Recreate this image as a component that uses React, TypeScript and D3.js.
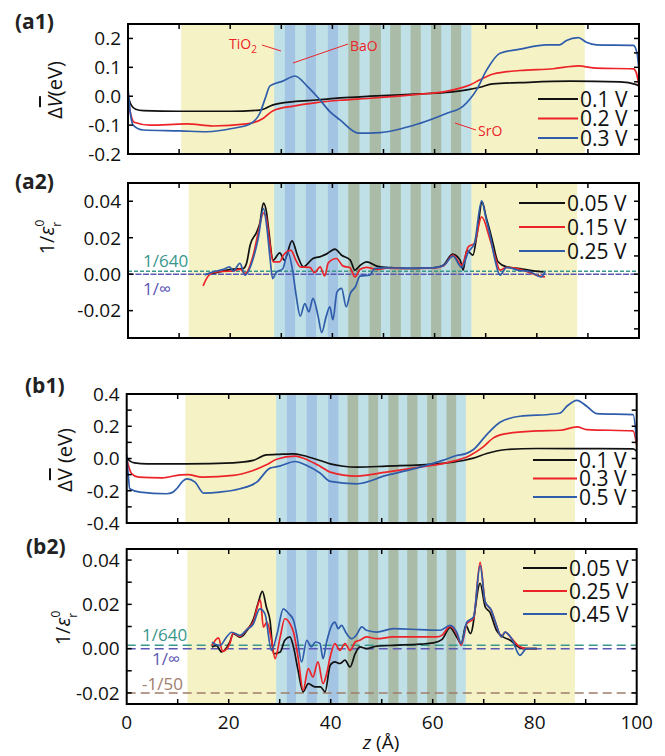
import React from 'react';
import * as d3 from 'd3';

type P = [number, number];

// ---------- (a1) averaged potential ----------
const a1Labels = ['0.1 V', '0.2 V', '0.3 V'];
const a1Black: P[] = [[0,0.0],[0.6,-0.03],[1.5,-0.045],[3,-0.05],[10,-0.052],[20,-0.052],[25.8,-0.048],[28.4,-0.03],[32.3,-0.019],[36.9,-0.013],[41.5,-0.006],[47.4,0.0],[57.1,0.008],[63,0.014],[66.3,0.022],[68.9,0.031],[71.4,0.043],[76.7,0.047],[86.5,0.052],[96.3,0.05],[99.5,0.04],[100,0.035]];
const a1Red: P[] = [[0,-0.01],[0.5,-0.06],[1.2,-0.09],[4.3,-0.1],[11.5,-0.096],[16.7,-0.103],[23.2,-0.096],[26.5,-0.076],[28.4,-0.05],[32.3,-0.034],[36.9,-0.022],[41.5,-0.014],[47.4,-0.007],[57.1,0.007],[62,0.016],[65,0.028],[67,0.04],[68.9,0.057],[71.5,0.077],[76.7,0.089],[83.2,0.095],[88.1,0.105],[91.7,0.097],[98.9,0.095],[99.5,0.08],[100,0.033]];
const a1Blue: P[] = [[0,0.031],[0.4,-0.05],[1,-0.1],[3,-0.117],[10.2,-0.12],[15.4,-0.123],[20.6,-0.111],[23.9,-0.096],[25.8,-0.059],[26.8,-0.01],[27.8,0.036],[30.4,0.053],[32.7,0.07],[35,0.036],[37.3,-0.007],[39.5,-0.053],[41.5,-0.082],[45.1,-0.128],[49.3,-0.126],[57.1,-0.094],[62.4,-0.059],[65.6,-0.034],[68.2,0.022],[70.2,0.091],[72.8,0.149],[76.7,0.163],[81.9,0.178],[84.5,0.178],[85.8,0.193],[88.1,0.203],[89.8,0.186],[91.7,0.178],[98.9,0.176],[99.6,0.15],[100,0.09]];

// ---------- (a2) inverse permittivity ----------
const a2Labels = ['0.05 V', '0.15 V', '0.25 V'];
const a2Black: P[] = [[16.2,0.0005],[17.5,0.001],[19,0.002],[20.6,0.0028],[22.5,0.003],[23.2,0.006],[23.9,0.0159],[25.2,0.0232],[25.8,0.028],[26.5,0.039],[27.1,0.034],[27.5,0.025],[28.4,0.0077],[29.7,0.0117],[30.6,0.0077],[32.1,0.0183],[33.2,0.01],[34.3,0.004],[36.2,0.0086],[37.5,0.0095],[38.8,0.011],[40.5,0.0137],[41.8,0.0104],[43.5,0.0077],[44.4,0.0022],[45.5,0.005],[46.7,0.0068],[48.7,0.0044],[50.6,0.0037],[52,0.0035],[55.2,0.0031],[57.5,0.0033],[59.7,0.0035],[61.7,0.0049],[63.5,0.011],[65,0.0077],[65.6,0.0022],[66.3,0.0131],[67.5,0.0104],[68.3,0.022],[69.3,0.0396],[70.1,0.031],[70.8,0.024],[71.5,0.016],[72.4,0.0068],[74.1,0.004],[76.7,0.0031],[79.3,0.0018],[81.3,0.0013]];
const a2Red: P[] = [[14.7,-0.0064],[15.4,-0.0023],[16.7,0.0009],[18.5,0.0015],[20.6,0.0017],[21.9,0.0028],[22.9,0.0004],[24.5,0.0104],[25.5,0.023],[26.5,0.0335],[27.1,0.0305],[27.6,0.02],[28.4,0.0068],[29.7,0.0068],[30.4,0.0104],[31.9,0.0131],[32.8,0.008],[33.7,0.004],[35.6,0.0037],[36.5,0.0008],[37.6,0.004],[38.5,-0.001],[39.2,0.0062],[40.8,0.0086],[42.1,0.0044],[43.4,0.0037],[44.4,-0.0015],[45.4,0.0026],[46.7,0.0037],[48.7,0.0026],[50.6,0.0033],[55,0.0031],[59.7,0.0033],[61.7,0.0045],[63.6,0.0104],[65.3,0.0049],[66.6,0.015],[67.8,0.017],[69.2,0.0314],[70.8,0.0195],[71.8,0.01],[72.8,0.0022],[74.1,0.0037],[76.7,0.0026],[78.5,0.001],[79.9,-0.0005],[81.6,-0.0015]];
const a2Blue: P[] = [[15,-0.0004],[16.7,0.0013],[18.5,0.0025],[19.9,0.004],[20.6,0.0017],[21.9,0.0059],[22.9,-0.0005],[24.5,0.0086],[25.5,0.02],[26.5,0.036],[27.2,0.025],[27.8,0.0086],[28.3,-0.0024],[29,0.001],[30.3,0.003],[31.3,0.012],[32.2,0.0022],[32.9,-0.0115],[33.7,-0.023],[34.6,-0.0161],[35.4,-0.0206],[36.2,-0.0133],[37.2,-0.023],[37.9,-0.032],[38.8,-0.023],[39.5,-0.0179],[40.1,-0.025],[40.9,-0.0097],[41.8,-0.0078],[42.7,-0.0179],[43.5,-0.0106],[44.5,-0.0069],[45.4,-0.0011],[47.3,-0.0005],[48.3,0.0031],[50,0.0035],[55,0.0033],[59.7,0.0035],[61.7,0.0047],[63.6,0.0099],[65.3,0.0037],[66.6,0.0122],[67.8,0.017],[69.2,0.0402],[70.1,0.03],[70.8,0.022],[71.8,0.008],[72.8,-0.0005],[74.1,0.0037],[76.7,0.002],[78.5,0.0015],[80.9,-0.0015],[81.6,0.0013]];

// ---------- (b1) averaged potential ----------
const b1Labels = ['0.1 V', '0.3 V', '0.5 V'];
const b1Black: P[] = [[0,0.004],[0.6,-0.015],[1.5,-0.027],[4,-0.033],[11.8,-0.033],[20.9,-0.027],[24.8,-0.012],[27.4,0.0227],[29.4,0.025],[32.7,0.029],[34.6,0.0186],[37.9,-0.0124],[39.9,-0.033],[42.5,-0.048],[45.1,-0.0536],[50.9,-0.0474],[60.8,-0.033],[66,-0.0124],[68,0.002],[70.6,0.0309],[74.5,0.0557],[80.4,0.0619],[90,0.061],[99.3,0.0598],[100,0.045]];
const b1Red: P[] = [[0,-0.002],[0.5,-0.06],[1,-0.095],[2.3,-0.1155],[7,-0.1196],[10.6,-0.101],[12,-0.1],[14.8,-0.1155],[20.9,-0.105],[24.8,-0.0742],[27.4,-0.0392],[29.4,-0.005],[33,0.015],[35.9,-0.015],[37.9,-0.0474],[39.9,-0.0845],[45.1,-0.109],[50.9,-0.0845],[57.5,-0.0536],[62.7,-0.0268],[67.3,0.0186],[69.9,0.0722],[71.9,0.1278],[74.5,0.1546],[80.4,0.1711],[85,0.1753],[88.3,0.1959],[90.2,0.1794],[99.3,0.1711],[100,0.0825]];
const b1Blue: P[] = [[0,0.025],[0.3,-0.1],[0.6,-0.1876],[2.6,-0.208],[7.8,-0.2185],[9,-0.21],[9.8,-0.1876],[11,-0.14],[11.8,-0.126],[13.4,-0.1464],[15.1,-0.2144],[18.3,-0.208],[22.2,-0.1876],[25.5,-0.1464],[28.1,-0.0598],[30,-0.0474],[33,-0.0186],[35.3,-0.0433],[37.9,-0.09],[39.9,-0.1423],[45.1,-0.157],[50.9,-0.105],[57.5,-0.0536],[62.1,-0.0103],[64.7,0.0186],[66.5,0.03],[68,0.0557],[70.6,0.148],[73.2,0.2247],[77.1,0.262],[83.7,0.276],[85,0.282],[86.3,0.324],[88.3,0.361],[90.2,0.324],[92.2,0.278],[99.3,0.272],[100,0.107]];

// ---------- (b2) inverse permittivity ----------
const b2Labels = ['0.05 V', '0.25 V', '0.45 V'];
const b2Black: P[] = [[16.7,0.0007],[17.6,0.0014],[18.6,-0.0015],[20.2,0.0029],[20.9,0.0068],[22.2,0.0052],[22.8,0.0059],[23.5,0.008],[24.8,0.013],[25.7,0.02],[26.6,0.0259],[27.4,0.0187],[28.1,0.0128],[28.8,-0.0023],[30.1,-0.0015],[31,0.0038],[32,0.0053],[32.7,0.0008],[33.6,-0.0098],[34.6,-0.0195],[35.6,-0.0158],[36.9,-0.0173],[38,-0.0173],[38.9,-0.0195],[39.9,-0.0075],[40.8,-0.006],[41.8,-0.0067],[42.8,-0.0052],[43.8,-0.0083],[44.8,-0.0023],[45.7,0.0008],[47,0],[49,0.0011],[52.3,0.0015],[57.5,0.002],[60.1,0.0026],[61.8,0.0041],[63.4,0.0095],[64.7,0.0053],[65.6,0.0023],[66.5,0.0105],[67.4,0.0068],[69.3,0.0295],[70.3,0.0188],[71.2,0.0165],[72.5,0.0083],[73.8,0.0053],[75.2,0.0038],[76.8,0.0008],[78.4,0],[80.4,0]];
const b2Red: P[] = [[16.7,0.0014],[18,0.0049],[18.8,-0.0012],[20.2,0.0022],[20.9,0.007],[22.2,0.0055],[23.5,0.0085],[24.8,0.012],[26.2,0.022],[26.8,0.0097],[27.5,0.012],[28.4,0.0038],[29.1,-0.0045],[30.1,0.0053],[31,0.0135],[32,0.0113],[32.7,0.0075],[33.6,-0.0038],[34.6,-0.0188],[35.6,-0.009],[36.5,-0.0128],[37.5,-0.006],[38.5,-0.0158],[39.2,-0.0113],[39.9,-0.0038],[40.8,0.0023],[41.8,-0.0008],[42.8,0.0023],[43.8,-0.0008],[44.8,0.003],[45.7,0.0038],[47,0.0053],[49,0.0045],[52.3,0.0053],[57.5,0.0053],[60.8,0.0053],[61.8,0.006],[63.4,0.0101],[64.7,0.0068],[65.6,0.0015],[66.7,0.0113],[68,0.0135],[69.3,0.039],[70.3,0.021],[71.5,0.0173],[72.5,0.0105],[73.5,0.0053],[74.2,0.0075],[75.5,0.0045],[77.1,0.0008],[78.4,0],[80.4,0]];
const b2Blue: P[] = [[16.7,0.0029],[18.3,0.0014],[19.5,0.005],[20.6,0.0074],[22.2,0.006],[23.5,0.0085],[24.8,0.011],[26.1,0.018],[27.1,0.0158],[28.4,-0.0008],[29.5,0.0068],[30.7,0.018],[31.7,0.016],[32.7,0.0128],[33.3,0.0068],[34.3,-0.006],[35.3,0.0038],[36.2,0.0008],[37,0.003],[37.9,0.0023],[38.5,-0.0045],[39.2,0.003],[40.2,0.0105],[40.8,0.012],[41.5,0.009],[42.1,0.0105],[43.1,0.0068],[44.1,0.0045],[45,0.006],[46.1,0.0098],[47,0.0083],[49,0.0075],[52.3,0.009],[57.5,0.0086],[61.4,0.0083],[63.4,0.0105],[64.7,0.0075],[65.6,0.0023],[66.7,0.012],[68,0.0143],[69.3,0.0375],[70.3,0.021],[71.5,0.0173],[72.5,0.0105],[73.5,0.0053],[74.2,0.0075],[75.5,0.0045],[77.1,-0.003],[78.4,0],[80.4,0]];

// layer regions (z in Å)
const aCyan: P = [28.6, 67.2];
const aBlueStripes: P[] = [[30.7,32.7],[34.8,36.8],[39.1,41.1]];
const aGreyStripes: P[] = [[43.1,45.3],[47.3,49.5],[51.3,53.4],[55.3,57.3],[59.3,61.3],[63.2,65.2]];
const bCyan: P = [29.3, 66.5];
const bBlueStripes: P[] = [[31.4,33.2],[35.3,37.3],[39.5,41.5]];
const bGreyStripes: P[] = [[43.3,45.4],[47.4,49.3],[51.3,53.3],[55,57],[58.9,60.8],[62.7,64.6]];

const zTicks = [10, 20, 30, 40, 50, 60, 70, 80, 90];
const zLabels = [0, 20, 40, 60, 80, 100];

const RED = '#ec2328';
const BLUE = '#2f5dab';
const BLACK = '#111';
const YELLOW = '#f5f3c6';
const CYAN = '#c0e0e7';
const SBLUE = '#a3c4e2';
const SGREY = '#aabca8';
const TEAL = '#3a978c';
const PURPLE = '#5a57b3';
const BROWN = '#a07d6c';
const FONT = '"Open Sans", "Noto Sans", sans-serif';

interface RefLine { v: number; color: string; dash: string; label: string; lx: number; ly: number }

interface PanelProps {
  left: number; right: number; top: number; bottom: number;
  yDomain: P;
  yellow: P; cyan: P; blues: P[]; greys: P[];
  series: P[][]; labels: string[];
  yLabelTicks: number[]; yLeftMinor: number[]; yRight: number[]; digits: number;
  legendX: number; legendY: number; legendDy: number; legendLen: number;
  refs?: RefLine[];
  xLabels?: boolean;
}

const COLORS = [BLACK, RED, BLUE];

function Panel(p: PanelProps) {
  const x = d3.scaleLinear().domain([0, 100]).range([p.left, p.right]);
  const y = d3.scaleLinear().domain(p.yDomain).range([p.bottom, p.top]);
  const line = d3.line<P>().x(d => x(d[0])).y(d => y(d[1])).curve(d3.curveMonotoneX);
  const h = p.bottom - p.top;
  const band = (r: P, fill: string, k: string) =>
    <rect key={k} x={x(r[0])} y={p.top} width={x(r[1]) - x(r[0])} height={h} fill={fill} />;
  const tl = 5;
  return (
    <g>
      {band(p.yellow, YELLOW, 'y')}
      {band(p.cyan, CYAN, 'c')}
      {p.blues.map((r, i) => band(r, SBLUE, 'b' + i))}
      {p.greys.map((r, i) => band(r, SGREY, 'g' + i))}
      {(p.refs || []).map((r, i) => (
        <g key={'r' + i}>
          <line x1={x(0)} x2={x(100)} y1={y(r.v)} y2={y(r.v)} stroke={r.color} strokeWidth={1.5} strokeDasharray={r.dash} />
          <text x={r.lx} y={r.ly} fill={r.color} fontSize={17} fontFamily={FONT}>{r.label}</text>
        </g>
      ))}
      {p.series.map((s, i) => (
        <path key={'s' + i} d={line(s) || ''} fill="none" stroke={COLORS[i]} strokeWidth={1.7} strokeLinejoin="round" />
      ))}
      <rect x={p.left} y={p.top} width={p.right - p.left} height={h} fill="none" stroke="#000" strokeWidth={2} />
      {zTicks.map(t => (
        <g key={'zt' + t} stroke="#000" strokeWidth={1.5}>
          <line x1={x(t)} x2={x(t)} y1={p.top} y2={p.top + tl} />
          <line x1={x(t)} x2={x(t)} y1={p.bottom} y2={p.bottom - tl} />
        </g>
      ))}
      {p.yLabelTicks.concat(p.yLeftMinor).map((t, i) => (
        <line key={'yl' + i} x1={p.left} x2={p.left + tl} y1={y(t)} y2={y(t)} stroke="#000" strokeWidth={1.5} />
      ))}
      {p.yRight.map((t, i) => (
        <line key={'yr' + i} x1={p.right} x2={p.right - tl} y1={y(t)} y2={y(t)} stroke="#000" strokeWidth={1.5} />
      ))}
      {p.yLabelTicks.map((t, i) => (
        <text key={'ylt' + i} x={p.left - 7} y={y(t)} dy="0.36em" textAnchor="end" fontSize={19} fontFamily={FONT} fill="#111">
          {t.toFixed(p.digits)}
        </text>
      ))}
      {p.xLabels && zLabels.map(t => (
        <text key={'xl' + t} x={x(t)} y={p.bottom + 25} textAnchor="middle" fontSize={19} fontFamily={FONT} fill="#111">{t}</text>
      ))}
      {p.labels.map((l, i) => {
        const ly = p.legendY + i * p.legendDy;
        return (
          <g key={'lg' + i}>
            <line x1={p.legendX} x2={p.legendX + p.legendLen} y1={ly} y2={ly} stroke={COLORS[i]} strokeWidth={2} />
            <text x={p.legendX + p.legendLen + 2} y={ly} dy="0.36em" fontSize={21} fontFamily={FONT} fill="#111">{l}</text>
          </g>
        );
      })}
    </g>
  );
}

function EpsLabel({ x, y }: { x: number; y: number }) {
  return (
    <text transform={`translate(${x},${y}) rotate(-90)`} textAnchor="middle" fontSize={20} fontFamily={FONT} fill="#111">
      1/<tspan fontStyle="italic">ε</tspan>
      <tspan fontSize={12} dy={-10}>0</tspan>
      <tspan fontSize={12} dx={-7} dy={17}>r</tspan>
    </text>
  );
}

function VLabel({ x, y, italic, gap }: { x: number; y: number; italic: boolean; gap: boolean }) {
  return (
    <text transform={`translate(${x},${y}) rotate(-90)`} textAnchor="middle" fontSize={20} fontFamily={FONT} fill="#111">
      Δ<tspan fontStyle={italic ? 'italic' : 'normal'} style={{ textDecoration: 'overline' }}>V</tspan>{gap ? ' (eV)' : '(eV)'}
    </text>
  );
}

export default function App() {
  const aRef: RefLine[] = [
    { v: 1 / 640, color: TEAL, dash: '4,2', label: '1/640', lx: 143, ly: 267 },
    { v: 0, color: PURPLE, dash: '6,1.5', label: '1/∞', lx: 143, ly: 295 },
  ];
  const bRef: RefLine[] = [
    { v: 1 / 640, color: TEAL, dash: '9,5', label: '1/640', lx: 142, ly: 641 },
    { v: 0, color: PURPLE, dash: '9,5', label: '1/∞', lx: 152, ly: 665 },
    { v: -1 / 50, color: BROWN, dash: '9,5', label: '-1/50', lx: 142, ly: 690 },
  ];
  return (
    <svg width={665} height={756} style={{ position: 'absolute', left: 0, top: 0, background: '#fff' }}>
      <Panel left={128} right={639} top={24} bottom={154} yDomain={[-0.2, 0.25]}
        yellow={[10.4, 89.4]} cyan={aCyan} blues={aBlueStripes} greys={aGreyStripes}
        series={[a1Black, a1Red, a1Blue]} labels={a1Labels}
        yLabelTicks={[-0.2, -0.1, 0, 0.1, 0.2]} yLeftMinor={[]} yRight={[-0.15, -0.1, -0.05, 0, 0.05, 0.1, 0.15, 0.2]} digits={1}
        legendX={538} legendY={99} legendDy={19.5} legendLen={40} />
      <Panel left={128} right={639} top={183} bottom={338} yDomain={[-0.035, 0.05]}
        yellow={[11.9, 87.9]} cyan={aCyan} blues={aBlueStripes} greys={aGreyStripes}
        series={[a2Black, a2Red, a2Blue]} labels={a2Labels}
        yLabelTicks={[-0.02, 0, 0.02, 0.04]} yLeftMinor={[]} yRight={[-0.03, -0.02, -0.01, 0, 0.01, 0.02, 0.03, 0.04]} digits={2}
        legendX={519} legendY={203} legendDy={24} legendLen={46} refs={aRef} />
      <Panel left={126.7} right={636.7} top={394} bottom={523} yDomain={[-0.4, 0.4]}
        yellow={[11.5, 87.9]} cyan={bCyan} blues={bBlueStripes} greys={bGreyStripes}
        series={[b1Black, b1Red, b1Blue]} labels={b1Labels}
        yLabelTicks={[-0.4, -0.2, 0, 0.2, 0.4]} yLeftMinor={[-0.3, -0.1, 0.1, 0.3]} yRight={[-0.3, -0.2, -0.1, 0, 0.1, 0.2, 0.3]} digits={1}
        legendX={533} legendY={460} legendDy={18.5} legendLen={44} />
      <Panel left={126.7} right={636.7} top={549} bottom={704} yDomain={[-0.025, 0.045]}
        yellow={[11.9, 87.9]} cyan={bCyan} blues={bBlueStripes} greys={bGreyStripes}
        series={[b2Black, b2Red, b2Blue]} labels={b2Labels}
        yLabelTicks={[-0.02, 0, 0.02, 0.04]} yLeftMinor={[-0.01, 0.01, 0.03]} yRight={[-0.02, -0.01, 0, 0.01, 0.02, 0.03, 0.04]} digits={2}
        legendX={523} legendY={568} legendDy={23} legendLen={44} refs={bRef} xLabels />

      {/* panel tags */}
      <g fontFamily={FONT} fontWeight="bold" fontSize={21} fill="#222">
        <text x={15} y={29}>(a1)</text>
        <text x={15} y={189}>(a2)</text>
        <text x={25} y={393}>(b1)</text>
        <text x={26} y={554}>(b2)</text>
      </g>

      {/* axis titles */}
      <VLabel x={62} y={90} italic gap={false} />
      <EpsLabel x={54} y={237} />
      <VLabel x={72} y={460} italic={false} gap />
      <EpsLabel x={70} y={628} />
      <text x={381} y={749} textAnchor="middle" fontSize={19} fontFamily={FONT} fill="#111">
        <tspan fontStyle="italic">z</tspan> (Å)
      </text>

      {/* layer annotations */}
      <g fill={RED} fontFamily={FONT} fontSize={14}>
        <text x={229} y={49}>TiO<tspan fontSize={10} dy={4}>2</tspan></text>
        <text x={350} y={51}>BaO</text>
        <text x={478} y={136}>SrO</text>
      </g>
      <g stroke={RED} strokeWidth={1}>
        <line x1={262} y1={45} x2={281} y2={51} />
        <line x1={348} y1={44} x2={293} y2={63} />
        <line x1={476} y1={130} x2={455} y2={123} />
      </g>
    </svg>
  );
}
